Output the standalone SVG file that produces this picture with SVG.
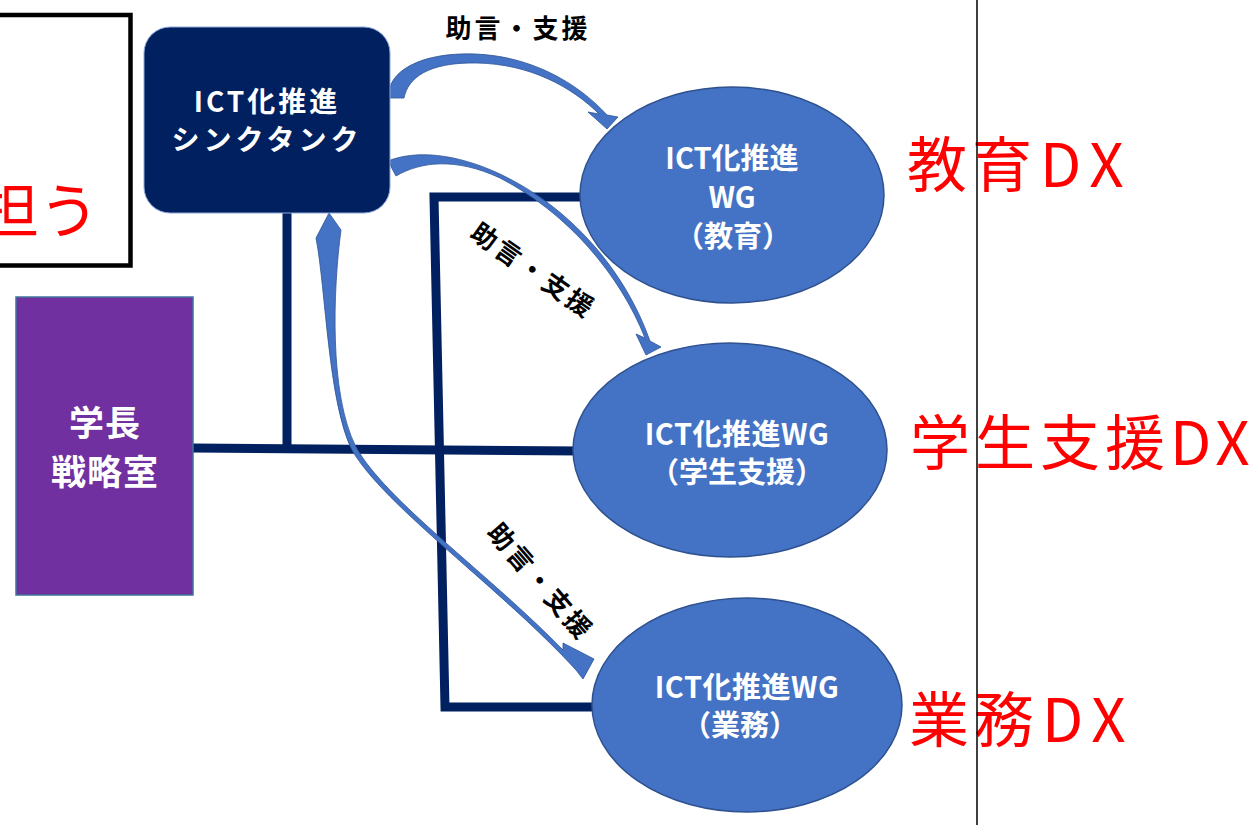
<svg xmlns="http://www.w3.org/2000/svg" width="1256" height="825" viewBox="0 0 1256 825">
  <style>
    .node-text { font-family: "Noto Sans CJK JP", "Noto Sans", sans-serif; font-weight: 700; fill: #FFFFFF; text-anchor: middle; }
    .label { font-family: "Noto Sans CJK JP", "Noto Sans", sans-serif; font-weight: 700; fill: #000000; font-size: 26px; letter-spacing: 3px; text-anchor: middle; }
    .red { font-family: "Noto Sans CJK JP", "Noto Sans", sans-serif; font-weight: 400; fill: #FF0000; font-size: 60px; letter-spacing: 5px; }
    .wg { fill: #4472C4; stroke: #2F528F; stroke-width: 1.5; }
    .bar { fill: none; stroke: #002060; stroke-width: 9; stroke-linejoin: miter; }
    .carrow { fill: #4472C4; stroke: #2F5597; stroke-width: 0.8; }
  </style>
  <rect width="1256" height="825" fill="#FFFFFF"/>

  <!-- top-left framed box (partly off-canvas) -->
  <g id="frame-box">
    <rect x="-20" y="15" width="150.5" height="250.5" fill="none" stroke="#000000" stroke-width="4.5"/>
    <text class="red" x="-21" y="233" font-size="58" style="letter-spacing:0">担う</text>
  </g>

  <!-- connectors -->
  <g id="connectors">
    <line class="bar" x1="287" y1="212" x2="287" y2="452"/>
    <line class="bar" x1="193" y1="448" x2="582" y2="451"/>
    <polyline class="bar" points="582,197 434,197 445,707 596,707"/>

    <!-- curved arrow to 教育 WG -->
    <path class="carrow" d="M 389 98 C 386 72, 420 52, 475 54 C 530 56, 577 82, 607 115 L 618 117 L 607 129 L 588 112 L 599 114 C 572 87, 530 64, 477 63 C 428 62, 408 78, 404 98 Z"/>
    <!-- curved arrow to 学生支援 WG -->
    <path class="carrow" d="M 388 161 C 415 150, 455 153, 500 174 C 570 207, 625 270, 650 341 L 661 347 L 646 355 L 636 334 L 645 338 C 620 275, 568 213, 500 178 C 455 157, 420 162, 396 176 Z"/>
    <!-- curved arrow to 業務 WG -->
    <path class="carrow" d="M 329 213 L 341 230 C 333 290, 329 394, 356 447 C 385 500, 490 575, 563 650 L 563 643 L 594 659 L 583 679 L 576 670 C 503 590, 383 505, 352 450 C 328 402, 326 290, 316 238 Z"/>
  </g>

  <!-- labels -->
  <g id="labels">
    <text class="label" x="518" y="38">助言・支援</text>
    <text class="label" transform="translate(533,271) rotate(35)" y="9">助言・支援</text>
    <text class="label" transform="translate(540,582) rotate(49)" y="9">助言・支援</text>
  </g>

  <!-- ICT think tank -->
  <g id="think-tank">
    <rect x="144" y="27" width="246" height="186" rx="26" ry="26" fill="#002060" stroke="#8FA8D8" stroke-width="1"/>
    <text class="node-text" x="267" y="112" font-size="28" style="letter-spacing:3px">ICT化推進</text>
    <text class="node-text" x="267" y="150" font-size="28" style="letter-spacing:4px">シンクタンク</text>
  </g>

  <!-- President strategy office -->
  <g id="strategy-office">
    <rect x="16" y="297" width="177" height="298" fill="#7030A0" stroke="#41719C" stroke-width="1.5"/>
    <text class="node-text" x="105" y="436" font-size="35" style="letter-spacing:1px">学長</text>
    <text class="node-text" x="105" y="485" font-size="35" style="letter-spacing:1px">戦略室</text>
  </g>

  <!-- WG education -->
  <g id="wg-education">
    <ellipse class="wg" cx="732" cy="195" rx="152" ry="108"/>
    <text class="node-text" x="732" y="169" font-size="29">ICT化推進</text>
    <text class="node-text" x="732" y="208" font-size="29">WG</text>
    <text class="node-text" x="733" y="247" font-size="29">（教育）</text>
  </g>

  <!-- WG student support -->
  <g id="wg-student">
    <ellipse class="wg" cx="730" cy="450" rx="157" ry="107"/>
    <text class="node-text" x="737" y="445" font-size="29" style="letter-spacing:0.5px">ICT化推進WG</text>
    <text class="node-text" x="737" y="483" font-size="29">（学生支援）</text>
  </g>

  <!-- WG operations -->
  <g id="wg-operations">
    <ellipse class="wg" cx="747" cy="705" rx="155" ry="107"/>
    <text class="node-text" x="747" y="698" font-size="29" style="letter-spacing:0.5px">ICT化推進WG</text>
    <text class="node-text" x="740" y="736" font-size="29">（業務）</text>
  </g>

  <!-- red DX captions -->
  <g id="captions">
    <text class="red" x="907" y="187">教育<tspan dx="3">D</tspan><tspan dx="4">X</tspan></text>
    <text class="red" x="910" y="465">学生支援DX</text>
    <text class="red" x="909" y="742">業務<tspan dx="3">D</tspan><tspan dx="4">X</tspan></text>
  </g>

  <line x1="977" y1="0" x2="977" y2="825" stroke="#000000" stroke-width="1.5"/>
</svg>
